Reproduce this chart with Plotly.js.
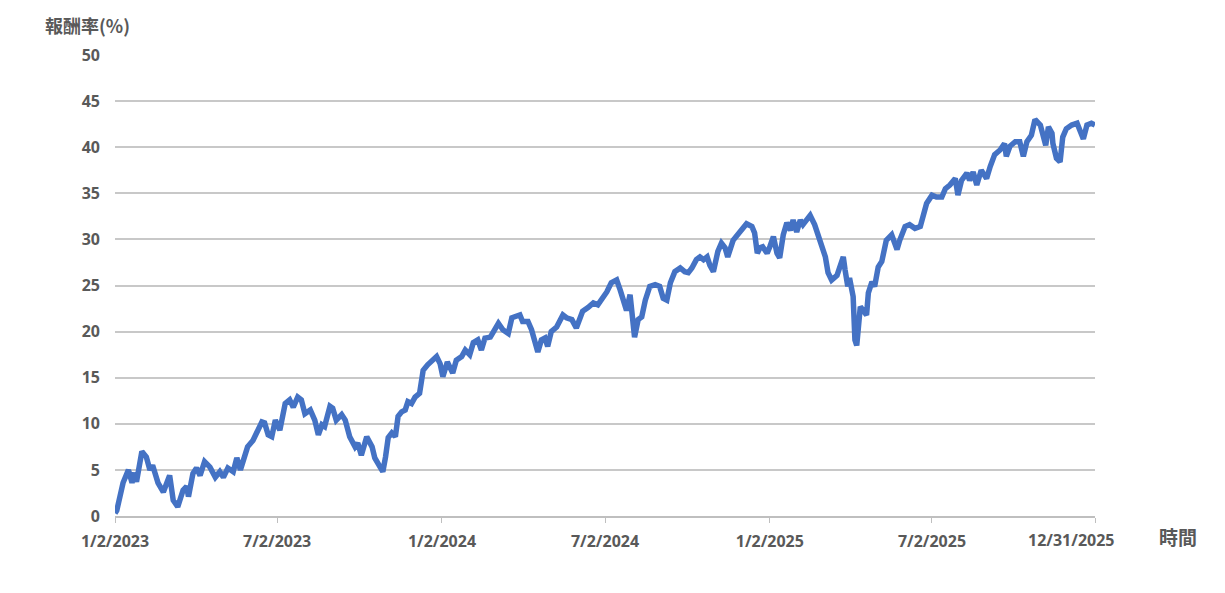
<!DOCTYPE html>
<html><head><meta charset="utf-8">
<script src="https://cdn.plot.ly/plotly-3.0.1.min.js"></script>
<style>html,body{margin:0;padding:0;background:#fff}#chart{width:1225px;height:593px}</style>
</head><body><div id="chart"></div>
<script>
const dates = [
'2023-01-02','2023-01-04','2023-01-11','2023-01-17','2023-01-21','2023-01-24','2023-01-26','2023-02-01','2023-02-06','2023-02-10',
'2023-02-13','2023-02-19','2023-02-25','2023-03-01','2023-03-04','2023-03-08','2023-03-13','2023-03-19','2023-03-23','2023-03-25',
'2023-03-30','2023-04-03','2023-04-07','2023-04-12','2023-04-18','2023-04-24','2023-04-29','2023-05-03','2023-05-08','2023-05-14',
'2023-05-18','2023-05-22','2023-05-27','2023-05-30','2023-06-05','2023-06-09','2023-06-15','2023-06-18','2023-06-22','2023-06-26',
'2023-06-30','2023-07-05','2023-07-11','2023-07-16','2023-07-20','2023-07-25','2023-07-29','2023-08-02','2023-08-08','2023-08-13',
'2023-08-17','2023-08-21','2023-08-24','2023-08-30','2023-09-02','2023-09-06','2023-09-12','2023-09-16','2023-09-21','2023-09-27',
'2023-09-30','2023-10-04','2023-10-10','2023-10-16','2023-10-19','2023-10-25','2023-10-28','2023-10-31','2023-11-03','2023-11-07',
'2023-11-11','2023-11-14','2023-11-18','2023-11-22','2023-11-25','2023-11-29','2023-12-03','2023-12-08','2023-12-10','2023-12-12',
'2023-12-17','2023-12-23','2023-12-27','2023-12-31','2024-01-03','2024-01-08','2024-01-14','2024-01-18','2024-01-24','2024-01-28',
'2024-02-02','2024-02-06','2024-02-11','2024-02-15','2024-02-19','2024-02-25','2024-03-01','2024-03-05','2024-03-10','2024-03-16',
'2024-03-20','2024-03-25','2024-03-29','2024-04-01','2024-04-07','2024-04-11','2024-04-15','2024-04-18','2024-04-22','2024-04-26',
'2024-04-29','2024-05-03','2024-05-09','2024-05-13','2024-05-16','2024-05-20','2024-05-26','2024-05-31','2024-06-04','2024-06-07',
'2024-06-13','2024-06-19','2024-06-24','2024-06-28','2024-07-04','2024-07-09','2024-07-15','2024-07-19','2024-07-22','2024-07-26',
'2024-07-30','2024-08-02','2024-08-04','2024-08-08','2024-08-12','2024-08-16','2024-08-21','2024-08-27','2024-09-01','2024-09-05',
'2024-09-09','2024-09-13','2024-09-18','2024-09-24','2024-09-29','2024-10-03','2024-10-07','2024-10-12','2024-10-16','2024-10-20',
'2024-10-24','2024-10-27','2024-10-31','2024-11-05','2024-11-09','2024-11-13','2024-11-16','2024-11-22','2024-11-28','2024-12-03',
'2024-12-07','2024-12-13','2024-12-16','2024-12-19','2024-12-22','2024-12-25','2024-12-30','2025-01-02','2025-01-06','2025-01-10',
'2025-01-13','2025-01-17','2025-01-21','2025-01-25','2025-01-28','2025-02-01','2025-02-05','2025-02-08','2025-02-16','2025-02-21',
'2025-02-25','2025-03-01','2025-03-05','2025-03-08','2025-03-12','2025-03-18','2025-03-21','2025-03-25','2025-03-27','2025-03-30',
'2025-04-01','2025-04-05','2025-04-07','2025-04-09','2025-04-13','2025-04-16','2025-04-20','2025-04-22','2025-04-26','2025-04-29',
'2025-05-03','2025-05-07','2025-05-12','2025-05-18','2025-05-24','2025-05-27','2025-06-02','2025-06-07','2025-06-13','2025-06-19',
'2025-06-22','2025-06-26','2025-07-02','2025-07-07','2025-07-13','2025-07-17','2025-07-22','2025-07-28','2025-07-31','2025-08-04',
'2025-08-10','2025-08-13','2025-08-17','2025-08-21','2025-08-26','2025-09-01','2025-09-05','2025-09-10','2025-09-16','2025-09-21',
'2025-09-23','2025-09-27','2025-10-03','2025-10-08','2025-10-12','2025-10-16','2025-10-21','2025-10-25','2025-10-31','2025-11-03',
'2025-11-06','2025-11-09','2025-11-13','2025-11-14','2025-11-18','2025-11-22','2025-11-25','2025-11-29','2025-12-05','2025-12-11',
'2025-12-14','2025-12-18','2025-12-22','2025-12-27','2025-12-31'
];
const returns = [
0.3,0.6,3.6,5.0,3.6,4.7,3.7,7.0,6.4,5.0,
5.5,3.6,2.6,3.6,4.4,1.7,1.0,2.8,3.2,2.1,
4.6,5.2,4.4,5.9,5.3,4.2,4.8,4.2,5.2,4.8,
6.3,5.0,6.3,7.5,8.2,9.0,10.2,10.1,8.8,8.6,
10.4,9.3,12.2,12.6,11.8,12.9,12.6,11.1,11.5,10.4,
8.8,9.9,9.7,11.9,11.7,10.4,11.0,10.4,8.6,7.5,
7.9,6.6,8.6,7.5,6.3,5.3,4.8,6.4,8.5,9.0,
8.6,10.8,11.3,11.5,12.4,12.2,12.9,13.3,14.2,15.8,
16.4,16.9,17.3,16.5,15.1,16.7,15.5,16.9,17.3,18.0,
17.5,18.8,19.1,18.0,19.3,19.4,20.2,20.9,20.2,19.8,
21.5,21.6,21.8,21.1,21.1,20.2,18.5,17.8,19.1,19.3,
18.4,20.0,20.5,21.1,21.8,21.5,21.3,20.4,21.5,22.2,
22.6,23.1,22.9,23.4,24.3,25.3,25.6,24.5,23.4,22.3,
24.0,20.2,19.4,21.3,21.6,23.4,24.9,25.1,24.9,23.6,
23.4,25.3,26.5,26.9,26.5,26.4,26.9,27.8,28.1,27.8,
28.1,27.2,26.5,28.7,29.6,29.1,28.1,29.9,30.7,31.4,
31.7,31.4,30.7,28.5,29.1,29.2,28.5,29.2,30.3,28.5,
28.0,30.5,31.8,31.0,32.1,30.8,32.1,31.6,32.6,31.6,
30.3,29.4,28.1,26.4,25.6,26.1,27.2,28.1,26.7,24.9,
25.8,23.8,19.1,18.5,22.7,22.2,21.8,24.2,25.4,24.9,
27.0,27.6,29.9,30.5,28.9,29.9,31.4,31.6,31.2,31.4,
32.5,33.9,34.8,34.6,34.6,35.5,35.9,36.6,34.8,36.4,
37.2,36.4,37.3,35.9,37.5,36.6,37.9,39.2,39.7,40.4,
39.0,40.1,40.6,40.6,39.0,40.6,41.3,43.0,42.4,41.5,
40.2,42.2,41.5,40.4,38.8,38.4,41.1,42.0,42.4,42.6,
41.7,40.9,42.4,42.6,42.4
];
const xTickVals = ['2023-01-02','2023-07-02','2024-01-02','2024-07-02','2025-01-02','2025-07-02','2025-12-31'];
const xTickText = ['1/2/2023','7/2/2023','1/2/2024','7/2/2024','1/2/2025','7/2/2025','12/31/2025'];
const yTickVals = [0,5,10,15,20,25,30,35,40,45,50];

const tickFont = {family:'"Noto Sans", "Open Sans", sans-serif', size:16, color:'#595959', weight:700};
// the last label is pulled inward (as in the reference), so it is drawn as an annotation
const shownTickText = xTickText.map((t, i) => i === xTickText.length - 1 ? '' : t);
const trace = {
  x: dates, y: returns, type:'scatter', mode:'lines',
  line:{color:'#4472C4', width:5.5, shape:'linear'},
  hoverinfo:'x+y'
};
const layout = {
  width:1225, height:593,
  margin:{l:115, r:130, t:55, b:77},
  paper_bgcolor:'#fff', plot_bgcolor:'#fff',
  showlegend:false,
  xaxis:{
    type:'date', range:['2023-01-02','2025-12-31'],
    tickvals:xTickVals, ticktext:shownTickText, tickfont:tickFont,
    showgrid:false, showline:true, linecolor:'#BFBFBF', linewidth:2,
    ticks:'outside', ticklen:5, tickcolor:'#BFBFBF', tickwidth:1,
    ticklabelstandoff:5,
    zeroline:false, fixedrange:true
  },
  yaxis:{
    range:[0,50], tickvals:yTickVals, tickfont:tickFont,
    showgrid:true, gridcolor:'#C8C8C8', gridwidth:2,
    zeroline:false, showline:false, ticks:'', ticklen:0,
    ticklabelstandoff:14,
    fixedrange:true
  },
  annotations:[
    {text:xTickText[xTickText.length - 1], xref:'paper', yref:'paper', x:0.9765, y:-0.053, xanchor:'center', yanchor:'middle', showarrow:false,
     font:tickFont},
    {text:'報酬率(%)', xref:'paper', yref:'paper', x:-0.0735, y:1.065, xanchor:'left', yanchor:'middle', showarrow:false,
     font:{family:'"Noto Sans CJK TC", sans-serif', size:18, color:'#595959', weight:700}},
    {text:'時間', xref:'paper', yref:'paper', x:1.0633, y:-0.0434, xanchor:'left', yanchor:'middle', showarrow:false,
     font:{family:'"Noto Sans CJK TC", sans-serif', size:19, color:'#595959', weight:700}}
  ]
};
Plotly.newPlot('chart',[trace],layout,{displayModeBar:false,staticPlot:true});
</script></body></html>
